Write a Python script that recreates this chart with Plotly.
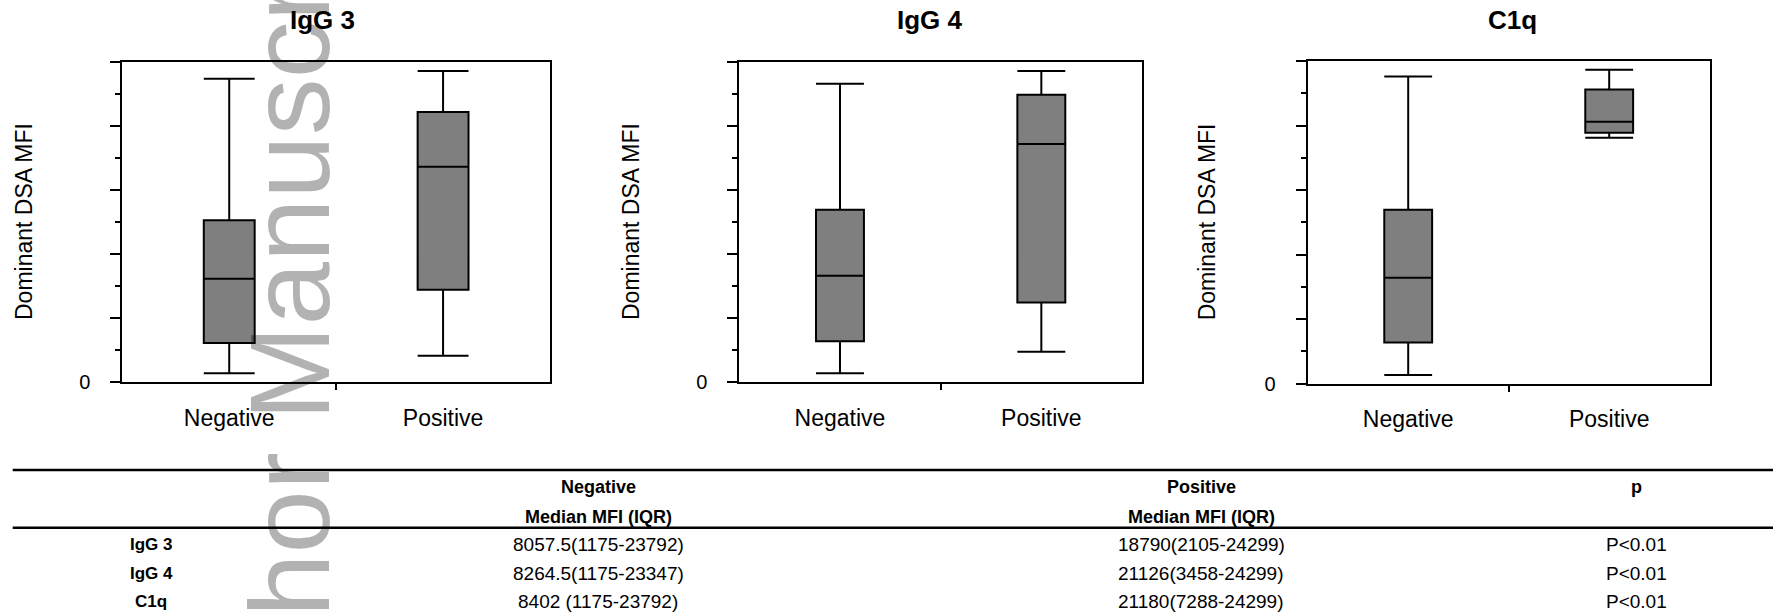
import plotly.graph_objects as go

W, H = 1773, 613

# ---------------- data ----------------
panels = ["IgG 3", "IgG 4", "C1q"]
groups = ["Negative", "Positive"]
group_pos = [0, 1]

# box statistics (per panel: [Negative, Positive])
lowerfence = [[680, 2060], [680, 2370], [670, 19060]]
q1 = [[3050, 7210], [3180, 6220], [3200, 19450]]
median = [[8070, 16820], [8310, 18590], [8210, 20300]]
q3 = [[12630, 21090], [13460, 22450], [13480, 22800]]
upperfence = [[23700, 24300], [23310, 24300], [23790, 24330]]

y_major = [0, 5000, 10000, 15000, 20000, 25000]
y_major_text = ["0", "", "", "", "", ""]
y_minor = [2500, 7500, 12500, 17500, 22500]
y_title = "Dominant DSA MFI"

table_header1 = ["", "Negative", "Positive", "p"]
table_header2 = ["", "Median MFI (IQR)", "Median MFI (IQR)", ""]
table_rows = ["IgG 3", "IgG 4", "C1q"]
table_neg = ["8057.5(1175-23792)", "8264.5(1175-23347)", "8402 (1175-23792)"]
table_pos = ["18790(2105-24299)", "21126(3458-24299)", "21180(7288-24299)"]
table_p = ["P<0.01", "P<0.01", "P<0.01"]

watermark = "Author Manuscript"

# ---------------- layout helpers ----------------
FONT = "Liberation Sans, Arial, sans-serif"
px = lambda x: x / W
py = lambda y: 1 - y / H

x_domains = [(122.3, 550.0), (739.3, 1142.0), (1307.7, 1709.7)]
y_domains = [(62, 382), (62, 382), (61, 383.7)]
ytitle_x = [24, 631, 1207]
title_x = [322, 930, 1512]

fig = go.Figure()
annotations = []
shapes = []

for i, name in enumerate(panels):
    k = "" if i == 0 else str(i + 1)
    fig.add_trace(go.Box(
        x=group_pos,
        lowerfence=lowerfence[i], q1=q1[i], median=median[i],
        q3=q3[i], upperfence=upperfence[i],
        xaxis="x" + k, yaxis="y" + k,
        width=0.238, whiskerwidth=1,
        fillcolor="#7f7f7f", line=dict(color="black", width=2),
        boxpoints=False, showlegend=False, hoverinfo="skip",
    ))
    x0, x1 = x_domains[i]
    ytop, ybot = y_domains[i]
    fig.layout["xaxis" + k] = dict(
        domain=[px(x0), px(x1)], anchor="y" + k, range=[-0.5, 1.5],
        tickvals=group_pos, ticktext=groups, ticks="",
        tickfont=dict(family=FONT, size=23, color="black"),
        ticklabelstandoff=14, automargin=False,
        showline=True, linecolor="black", linewidth=2, mirror=True,
        showgrid=False, zeroline=False, fixedrange=True,
        minor=dict(tickvals=[0.5], ticks="outside", ticklen=6, tickwidth=2, tickcolor="black"),
    )
    fig.layout["yaxis" + k] = dict(
        domain=[py(ybot), py(ytop)], anchor="x" + k, range=[0, 25000],
        tickvals=y_major, ticktext=y_major_text, ticks="outside",
        ticklen=10, tickwidth=2, tickcolor="black",
        tickfont=dict(family=FONT, size=20, color="black"),
        ticklabelstandoff=16, automargin=False,
        showline=True, linecolor="black", linewidth=2, mirror=True,
        showgrid=False, zeroline=False, fixedrange=True,
        minor=dict(tickvals=y_minor, ticks="outside", ticklen=5, tickwidth=2, tickcolor="black"),
    )
    annotations.append(dict(
        text="<b>" + name + "</b>", x=px(title_x[i]), y=py(20),
        xref="paper", yref="paper", xanchor="center", yanchor="middle",
        showarrow=False, font=dict(family=FONT, size=26, color="black"),
    ))
    annotations.append(dict(
        text=y_title, x=px(ytitle_x[i]), y=py((ytop + ybot) / 2),
        xref="paper", yref="paper", xanchor="center", yanchor="middle",
        textangle=-90, showarrow=False, font=dict(family=FONT, size=23, color="black"),
    ))

# ---------------- table ----------------
col_x = [151, 598, 1201, 1636]
head_y = [487, 517]
row_y = [544, 573, 601]

for line_y in (470, 527.7):
    shapes.append(dict(type="line", xref="paper", yref="paper",
                       x0=px(12.7), x1=1, y0=py(line_y), y1=py(line_y),
                       line=dict(color="black", width=2.5)))

for c in range(4):
    for hy, hdr in zip(head_y, (table_header1, table_header2)):
        if hdr[c]:
            annotations.append(dict(
                text="<b>" + hdr[c] + "</b>", x=px(col_x[c]), y=py(hy),
                xref="paper", yref="paper", xanchor="center", yanchor="middle",
                showarrow=False, font=dict(family=FONT, size=18, color="black")))

for r in range(3):
    cells = ["<b>" + table_rows[r] + "</b>", table_neg[r], table_pos[r], table_p[r]]
    for c in range(4):
        annotations.append(dict(
            text=cells[c], x=px(col_x[c]), y=py(row_y[r]),
            xref="paper", yref="paper", xanchor="center", yanchor="middle",
            showarrow=False, font=dict(family=FONT, size=17 if c == 0 else 19, color="black")))

# ---------------- watermark ----------------
annotations.append(dict(
    text=watermark, x=px(290), y=py(326), xref="paper", yref="paper",
    xanchor="center", yanchor="middle", textangle=-90, showarrow=False,
    font=dict(family=FONT, size=114, color="rgba(0,0,0,0.3)"),
))

fig.update_layout(
    width=W, height=H, margin=dict(l=0, r=0, t=0, b=0, autoexpand=False),
    paper_bgcolor="white", plot_bgcolor="white",
    showlegend=False, annotations=annotations, shapes=shapes,
    font=dict(family=FONT, color="black"),
)

fig.write_html(
    "out.html",
    config={"displayModeBar": False},
    post_script=(
        "document.documentElement.style.overflow='hidden';"
        "document.body.style.margin='0';"
        "document.body.style.overflow='hidden';"
    ),
)
